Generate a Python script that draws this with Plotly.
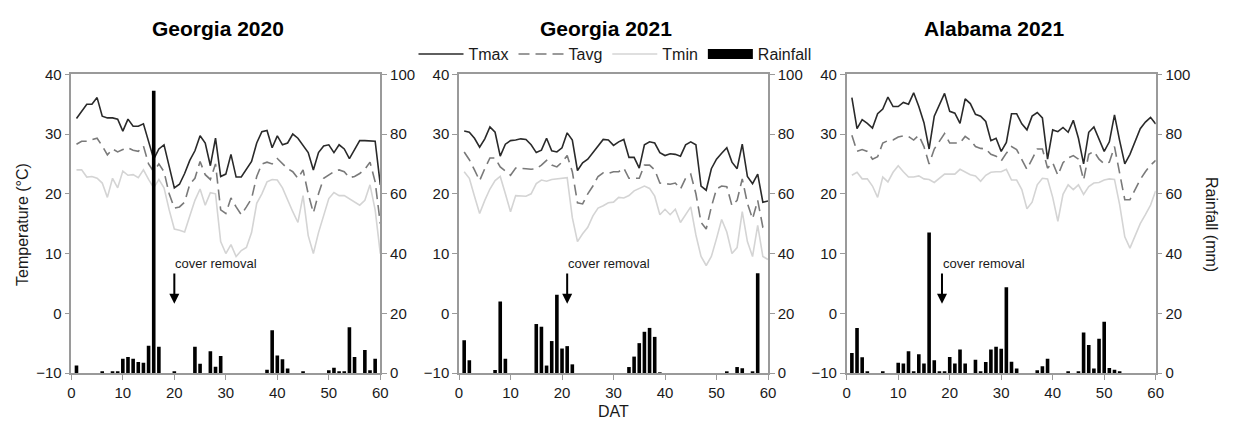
import plotly.graph_objects as go

# ---------------- data ----------------
panel_titles = ["Georgia 2020", "Georgia 2021", "Alabama 2021"]
days = list(range(1, 61))

ga20_tmax = [32.6,33.7,35.0,35.0,36.1,33.0,32.7,32.7,32.5,30.5,32.5,31.3,31.3,31.7,28.8,25.8,27.5,28.2,24.6,21.0,
             21.6,23.4,25.6,27.2,29.7,28.5,24.7,29.3,22.9,23.3,26.6,22.8,22.8,24.0,25.4,28.5,30.4,30.6,27.7,29.7,
             28.2,28.5,30.0,29.3,28.2,26.9,24.0,26.9,28.0,28.2,26.9,28.2,27.5,25.9,27.4,28.9,28.9,28.9,28.8,21.5]
ga20_tavg = [28.3,28.8,28.8,29.0,29.3,28.0,26.5,27.5,27.0,27.4,27.7,27.3,27.1,28.0,25.0,23.7,25.0,23.7,20.0,17.6,
             17.8,18.6,21.6,22.6,25.4,23.2,22.4,25.0,17.3,16.7,19.3,17.8,16.5,17.8,19.2,22.9,25.0,25.3,25.0,25.9,
             25.0,24.2,23.7,22.6,24.0,20.0,16.8,20.0,22.6,23.2,23.7,24.0,23.7,22.7,22.9,23.4,24.1,25.3,22.0,15.0]
ga20_tmin = [24.0,24.0,22.8,22.9,22.6,21.8,19.4,22.6,21.0,23.8,23.1,23.2,22.7,24.0,22.4,21.0,22.4,21.0,17.3,14.1,
             13.9,13.6,16.3,18.9,20.8,18.1,20.2,20.0,12.0,10.0,11.5,9.5,10.5,11.0,13.5,18.4,20.0,22.0,22.4,22.3,
             21.0,18.9,17.0,15.2,19.7,13.0,10.0,13.5,16.5,19.2,20.2,19.7,19.7,19.2,18.6,18.1,18.9,21.5,17.3,10.0]
ga20_rain_day = [1,6,8,9,10,11,12,13,14,15,16,17,20,24,25,27,28,29,38,39,40,41,42,45,50,51,52,53,54,55,57,58,59]
ga20_rain_mm = [2.5,0.5,0.5,0.5,4.8,5.4,4.8,3.7,3.4,9.1,94.5,8.8,0.3,8.8,3.1,7.3,2.1,5.7,1.1,14.3,5.9,4.6,1.5,
                0.5,0.9,1.8,0.6,0.6,15.3,5.4,7.7,0.9,4.8]

ga21_tmax = [30.5,30.3,29.3,27.8,29.2,31.2,30.3,26.3,28.3,28.9,29.0,29.2,29.1,28.2,26.9,27.3,29.3,27.2,27.0,27.7,
             30.2,29.0,23.9,25.2,25.8,26.9,28.0,29.1,29.0,28.1,28.7,29.1,26.1,26.1,24.3,28.2,28.7,28.5,26.9,26.4,
             26.7,26.6,26.3,28.2,28.7,28.2,21.3,20.6,24.2,25.8,26.8,27.7,25.3,24.2,28.3,22.9,21.7,23.3,18.6,18.8]
ga21_tavg = [27.0,25.7,24.0,22.2,24.2,26.0,26.0,24.5,23.8,23.1,24.3,24.3,24.2,24.1,24.2,24.8,25.6,24.8,24.5,25.3,
             26.4,23.7,18.5,18.3,20.0,21.3,22.9,23.5,23.4,23.7,23.7,24.3,22.6,22.6,22.6,24.8,24.8,24.0,21.8,21.7,
             21.6,21.8,20.8,22.6,23.3,20.0,15.2,14.1,17.8,20.8,21.3,21.2,18.0,18.9,22.5,18.4,15.8,18.9,14.4,14.0]
ga21_tmin = [23.7,22.6,19.6,16.7,18.9,20.8,22.2,22.9,20.0,17.0,19.7,19.6,19.6,20.0,21.7,22.3,22.1,22.4,22.5,22.7,
             22.7,16.0,12.0,13.3,14.4,16.3,17.6,18.0,18.5,18.6,19.4,19.3,19.7,20.5,20.9,21.3,20.9,19.6,16.5,17.4,
             16.5,17.4,15.2,16.4,17.8,13.1,9.5,8.0,9.5,12.5,15.7,13.6,10.0,11.0,17.0,12.0,9.5,14.7,9.5,9.0]
ga21_rain_day = [1,2,7,8,9,15,16,17,18,19,20,21,22,33,34,35,36,37,38,39,52,54,55,57,58]
ga21_rain_mm = [11.0,4.3,1.0,23.9,4.8,16.4,15.5,2.5,10.7,26.2,8.2,9.0,2.9,2.0,5.5,10.0,13.8,15.1,12.1,0.2,
                0.3,2.0,1.6,0.5,33.4]

al21_tmax = [36.1,30.9,32.4,31.8,31.0,33.4,34.2,36.2,34.6,34.6,35.3,35.0,36.9,34.6,31.9,27.5,33.0,34.9,36.8,33.8,
             33.5,31.8,35.9,35.1,33.3,33.0,32.1,28.9,29.3,27.1,28.6,33.4,33.4,31.7,30.7,33.0,33.6,32.7,25.8,30.7,
             30.4,31.1,30.3,32.3,29.3,25.0,30.3,31.2,29.3,27.1,28.7,33.2,28.9,25.0,26.6,28.8,30.9,32.0,32.8,31.7]
al21_tavg = [29.8,27.1,27.4,27.1,25.8,26.2,28.5,28.9,29.0,29.5,29.7,29.6,29.0,29.8,27.9,25.0,27.5,28.7,30.1,28.5,
             28.5,28.5,29.6,29.0,27.9,27.6,27.5,26.6,26.3,25.5,26.8,27.9,27.4,25.8,24.1,25.8,27.5,27.5,24.3,25.2,
             23.1,25.2,26.0,26.4,25.8,22.3,26.6,27.1,25.8,25.0,25.3,27.9,23.4,19.0,19.0,20.6,22.4,23.7,24.8,25.6]
al21_tmin = [23.1,23.6,22.5,22.5,21.3,19.4,22.8,22.0,23.6,24.7,23.7,22.8,22.8,23.0,22.5,22.4,21.9,22.6,23.3,23.3,
             23.3,24.1,23.6,23.2,23.0,22.1,23.1,23.6,23.7,23.7,24.1,22.3,22.3,20.7,17.5,18.6,21.5,22.6,22.5,19.4,
             15.4,19.9,21.5,20.7,21.5,19.9,21.2,21.8,21.9,22.3,22.5,22.4,18.2,12.8,10.9,13.1,15.0,16.5,18.1,20.5]
al21_rain_day = [1,2,3,4,7,10,11,12,13,14,15,16,17,18,19,20,21,22,23,25,26,27,28,29,30,31,32,33,37,38,39,
                 43,45,46,47,48,49,50,51,52,53]
al21_rain_mm = [6.7,15.1,5.3,0.3,0.3,3.4,3.2,7.3,0.3,6.3,3.2,47.0,4.3,0.3,0.5,5.4,3.2,7.9,3.2,4.4,0.6,3.7,7.9,
                8.8,8.1,28.7,3.8,1.5,0.9,2.3,4.8,0.5,0.5,13.6,9.4,1.5,11.5,17.2,1.7,1.1,0.3]

cover_removal_day = [20, 21, 18.5]
temp_ticks = [-10, 0, 10, 20, 30, 40]
rain_ticks = [0, 20, 40, 60, 80, 100]
dat_ticks = [0, 10, 20, 30, 40, 50, 60]

panels = [
    (ga20_tmax, ga20_tavg, ga20_tmin, ga20_rain_day, ga20_rain_mm),
    (ga21_tmax, ga21_tavg, ga21_tmin, ga21_rain_day, ga21_rain_mm),
    (al21_tmax, al21_tavg, al21_tmin, al21_rain_day, al21_rain_mm),
]

# ---------------- layout geometry ----------------
W, H = 1234, 430
FONT = "Liberation Sans, Arial, sans-serif"
px_x = [(68, 380), (459.5, 771.5), (851, 1163)]
y_dom = [(H - 379) / H, (H - 68) / H]
SPINE = "#9a9a9a"
TXT = "#1a1a1a"
TMAX_LINE = dict(color="#2a2a2a", width=1.6)
TAVG_LINE = dict(color="#7a7a7a", width=1.6, dash="11px,6px")
TMIN_LINE = dict(color="#d4d4d4", width=1.6)

fig = go.Figure()
layout = dict(
    width=W, height=H, margin=dict(l=0, r=0, t=0, b=0),
    paper_bgcolor="white", plot_bgcolor="white",
    font=dict(family=FONT, size=15, color=TXT),
    showlegend=True,
    legend=dict(orientation="h", x=0.5, xanchor="center", y=(H - 47) / H, yanchor="middle",
                font=dict(size=16, color=TXT), itemwidth=45, tracegroupgap=0,
                bgcolor="rgba(0,0,0,0)"),
)
annotations = []

for i, (tmax, tavg, tmin, rday, rmm) in enumerate(panels):
    xn = "x" if i == 0 else f"x{i+1}"
    ytn = "y" if i == 0 else f"y{2*i+1}"
    yrn = f"y{2*i+2}"
    xkey = "xaxis" if i == 0 else f"xaxis{i+1}"
    ytkey = "yaxis" if i == 0 else f"yaxis{2*i+1}"
    yrkey = f"yaxis{2*i+2}"

    fig.add_trace(go.Scatter(x=days, y=tmin, mode="lines", name="Tmin", xaxis=xn, yaxis=ytn,
                             line=TMIN_LINE, showlegend=False))
    fig.add_trace(go.Scatter(x=days, y=tavg, mode="lines", name="Tavg", xaxis=xn, yaxis=ytn,
                             line=TAVG_LINE, showlegend=False))
    fig.add_trace(go.Scatter(x=days, y=tmax, mode="lines", name="Tmax", xaxis=xn, yaxis=ytn,
                             line=TMAX_LINE, showlegend=False))
    fig.add_trace(go.Bar(x=rday, y=rmm, name="Rainfall", xaxis=xn, yaxis=yrn, width=0.7,
                         marker=dict(color="black", line=dict(width=0)), showlegend=False))

    x0, x1 = px_x[i]
    layout[xkey] = dict(domain=[x0 / W, x1 / W], range=[0, 60], anchor=ytn,
                        tickvals=dat_ticks, ticks="outside", ticklen=5, tickcolor=SPINE,
                        showline=True, linecolor=SPINE, linewidth=1.5, mirror=True,
                        showgrid=False, zeroline=False, tickfont=dict(size=15, color=TXT))
    layout[ytkey] = dict(domain=y_dom, range=[-10, 40], anchor=xn, tickvals=temp_ticks,
                         ticks="outside", ticklen=5, tickcolor=SPINE, showline=True, linecolor=SPINE,
                         linewidth=1.5, showgrid=False, zeroline=False, tickfont=dict(size=15, color=TXT))
    layout[yrkey] = dict(range=[0, 100], overlaying=ytn, side="right", anchor=xn, tickvals=rain_ticks,
                         ticks="outside", ticklen=5, tickcolor=SPINE, showline=True, linecolor=SPINE,
                         linewidth=1.5, showgrid=False, zeroline=False, tickfont=dict(size=15, color=TXT))

    # panel title
    annotations.append(dict(text=f"<b>{panel_titles[i]}</b>", x=(x0 + x1) / 2 / W - 0.006, y=(H - 20) / H,
                            xref="paper", yref="paper", showarrow=False, xanchor="center", yanchor="middle",
                            font=dict(size=21, color="black", family=FONT)))
    # cover removal
    cd = cover_removal_day[i]
    annotations.append(dict(text="cover removal", x=cd - 0.2, y=8.3, xref=xn, yref=ytn, showarrow=False,
                            xanchor="left", yanchor="middle", font=dict(size=13, color=TXT)))
    annotations.append(dict(text="", x=cd, y=1.6, ax=cd, ay=6.9, xref=xn, yref=ytn, axref=xn, ayref=ytn,
                            showarrow=True, arrowhead=2, arrowsize=1, arrowwidth=2, arrowcolor="black"))

# legend-only entries (in the reference order)
for nm, ln in [("Tmax", TMAX_LINE), ("Tavg", TAVG_LINE), ("Tmin", TMIN_LINE),
               ("Rainfall", dict(color="black", width=10))]:
    fig.add_trace(go.Scatter(x=[None], y=[None], mode="lines", name=nm, line=ln,
                             showlegend=True, hoverinfo="skip"))

annotations.append(dict(text="Temperature (°C)", x=18 / W, y=(H - 224) / H, xref="paper", yref="paper",
                        showarrow=False, textangle=-90, xanchor="center", yanchor="middle",
                        font=dict(size=16, color=TXT)))
annotations.append(dict(text="Rainfall (mm)", x=1220 / W, y=(H - 224) / H, xref="paper", yref="paper",
                        showarrow=False, textangle=90, xanchor="center", yanchor="middle",
                        font=dict(size=16, color=TXT)))
annotations.append(dict(text="DAT", x=615 / W, y=(H - 419) / H, xref="paper", yref="paper",
                        showarrow=False, xanchor="center", yanchor="middle", font=dict(size=16, color=TXT)))

layout["annotations"] = annotations
fig.update_layout(**layout)
fig.write_html("out.html")
